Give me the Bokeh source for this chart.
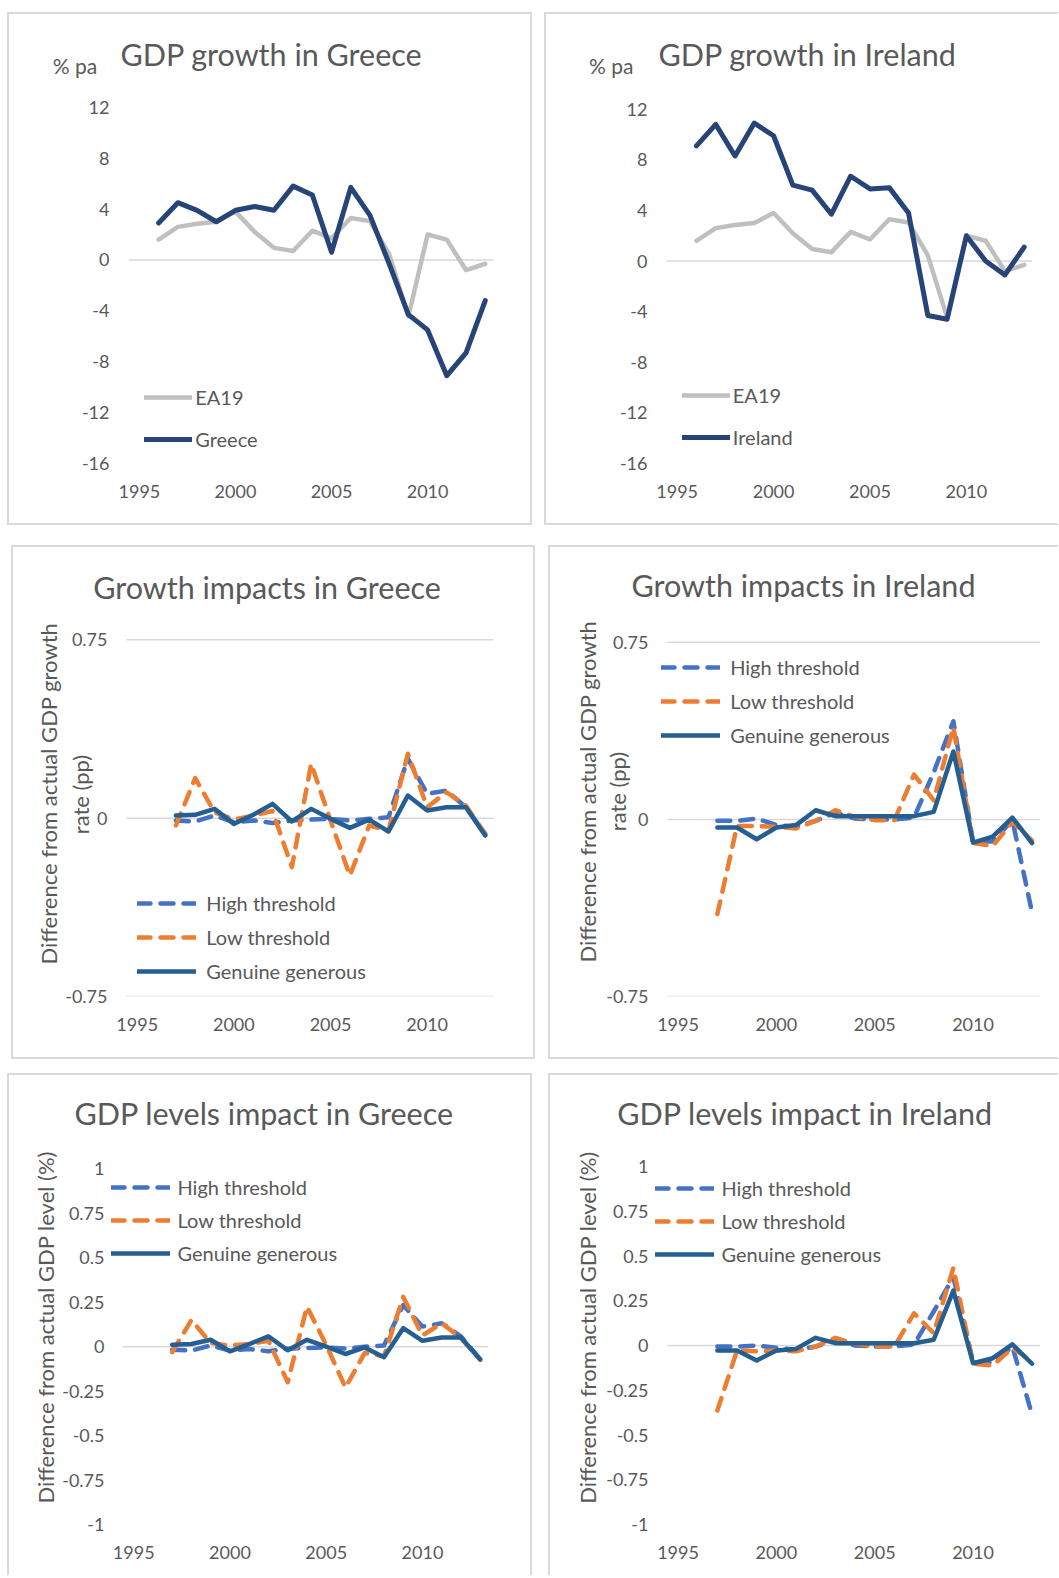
import math
from bokeh.plotting import figure
from bokeh.models import (Range1d, FixedTicker, Label, Legend, LegendItem,
                          Spacer, CustomJSTickFormatter)
from bokeh.layouts import row, column
from bokeh.embed import file_html
from bokeh.resources import INLINE

# ---------------- data ----------------
years = list(range(1996, 2014))
ea19 = [1.6, 2.6, 2.85, 3.0, 3.8, 2.2, 0.95, 0.7, 2.3, 1.7, 3.3, 3.05, 0.45, -4.45, 2.0, 1.6, -0.8, -0.3]
greece = [2.9, 4.5, 3.9, 3.0, 3.9, 4.2, 3.9, 5.8, 5.1, 0.6, 5.7, 3.5, -0.3, -4.3, -5.5, -9.1, -7.3, -3.2]
ireland = [9.1, 10.8, 8.3, 10.9, 9.9, 6.0, 5.6, 3.7, 6.7, 5.7, 5.8, 3.8, -4.3, -4.6, 2.0, 0.0, -1.1, 1.1]

impact_years = list(range(1997, 2014))
gr_growth_high = [-0.01, -0.014, 0.011, -0.017, -0.01, -0.02, -0.01, -0.006, -0.003, -0.01, -0.003, 0.004, 0.25, 0.102, 0.116, 0.046, -0.066]
gr_growth_low = [-0.031, 0.168, 0.025, -0.006, 0.011, 0.03, -0.206, 0.229, -0.01, -0.241, -0.031, -0.052, 0.271, 0.046, 0.109, 0.053, -0.066]
gr_growth_gen = [0.011, 0.014, 0.039, -0.024, 0.014, 0.06, -0.014, 0.039, -0.003, -0.041, -0.006, -0.056, 0.095, 0.032, 0.046, 0.046, -0.073]

ie_growth_high = [-0.006, -0.006, 0.004, -0.024, -0.031, -0.006, 0.028, 0.004, 0.0, 0.0, 0.008, 0.2, 0.416, -0.094, -0.094, -0.003, -0.394]
ie_growth_low = [-0.401, -0.028, -0.028, -0.031, -0.038, -0.006, 0.039, 0.011, -0.003, -0.003, 0.19, 0.081, 0.391, -0.1, -0.112, -0.01, -0.09]
ie_growth_gen = [-0.034, -0.034, -0.084, -0.034, -0.024, 0.039, 0.014, 0.014, 0.014, 0.014, 0.014, 0.032, 0.288, -0.098, -0.073, 0.008, -0.1]

gr_level_high = [-0.017, -0.022, 0.007, -0.022, -0.013, -0.026, -0.011, -0.007, -0.004, -0.011, 0.0, 0.007, 0.234, 0.113, 0.132, 0.058, -0.072]
gr_level_low = [-0.03, 0.15, 0.02, 0.007, 0.015, 0.033, -0.2, 0.225, 0.01, -0.23, -0.035, -0.054, 0.28, 0.063, 0.132, 0.048, -0.072]
gr_level_gen = [0.011, 0.015, 0.039, -0.026, 0.015, 0.058, -0.02, 0.039, 0.0, -0.041, -0.004, -0.059, 0.104, 0.033, 0.052, 0.052, -0.072]

ie_level_high = [-0.006, -0.006, 0.0, -0.013, -0.024, -0.006, 0.032, 0.0, -0.006, -0.006, 0.006, 0.19, 0.382, -0.093, -0.093, -0.006, -0.385]
ie_level_low = [-0.363, -0.028, -0.032, -0.028, -0.032, -0.006, 0.043, 0.009, -0.006, -0.006, 0.18, 0.069, 0.434, -0.102, -0.112, -0.013, -0.09]
ie_level_gen = [-0.028, -0.028, -0.084, -0.028, -0.019, 0.043, 0.013, 0.013, 0.013, 0.013, 0.013, 0.032, 0.307, -0.099, -0.071, 0.006, -0.102]

x_ticks = [1995, 2000, 2005, 2010]
growth_ticks = [12, 8, 4, 0, -4, -8, -12, -16]
impact_ticks = [0.75, 0, -0.75]
level_ticks = [1, 0.75, 0.5, 0.25, 0, -0.25, -0.5, -0.75, -1]
X_LO, X_HI = 1994.45, 2013.43          # horizontal axis limits (Excel plot area)

# ---------------- style ----------------
FONT = "Lato"
TEXT = "#595959"
GRID = "#D9D9D9"
NAVY = "#264478"
GREY = "#BFBFBF"
BLUE = "#4472C4"
ORANGE = "#ED7D31"
DKBLUE = "#255E91"
BW = 2  # CSS border width
TITLE_FS = "30.5px"
LEG_FS = "20px"
YLAB_FS = "22px"


class Panel:
    """Pixel geometry helper: page coords -> figure/frame coords."""

    def __init__(self, fx, fy, fw, fh, L, R, T, B, ylo, yhi, yticks,
                 open_right=False, open_bottom=False):
        cl, ct = fx + BW, fy + BW              # canvas origin (page)
        cr, cb = cl + fw, ct + fh              # canvas far edges (page)
        self.FL = cl + 1                       # extended frame left (page)
        self.FT = ct + 1                       # extended frame top (page)
        self.B = B
        sx = (R - L) / (X_HI - X_LO)
        sy = (B - T) / (yhi - ylo)
        x0 = X_LO - (L - self.FL) / sx
        y1 = yhi + (T - self.FT) / sy
        p = figure(width=fw, height=fh, x_range=Range1d(x0, X_HI),
                   y_range=Range1d(ylo, y1), output_backend="svg",
                   toolbar_location=None,
                   min_border_left=1, min_border_top=1,
                   min_border_right=int(round(cr - R)),
                   min_border_bottom=int(round(cb - B)))
        p.outline_line_color = None
        p.xgrid.visible = False
        p.ygrid.visible = False
        for ax in (p.xaxis[0], p.yaxis[0]):
            ax.axis_line_color = None
            ax.major_tick_line_color = None
            ax.minor_tick_line_color = None
            ax.major_tick_out = 0
            ax.major_tick_in = 0
            ax.minor_tick_out = 0
            ax.major_label_text_font = FONT
            ax.major_label_text_font_size = "18px"
            ax.major_label_text_color = TEXT
        p.xaxis.ticker = FixedTicker(ticks=x_ticks)
        p.xaxis.major_label_standoff = 21
        p.yaxis.ticker = FixedTicker(ticks=yticks)
        p.yaxis.formatter = CustomJSTickFormatter(code="return String(tick);")
        # tick labels sit 19px left of the data area, i.e. inside the extended frame
        p.yaxis.major_label_standoff = int(round(self.FL - (L - 19)))
        styles = {"border": f"{BW}px solid {GRID}", "box-sizing": "border-box"}
        if open_right:
            styles["border-right-color"] = "transparent"
        if open_bottom:
            styles["border-bottom-color"] = "transparent"
        p.styles = styles
        self.p = p

    def sx(self, page_x):
        return page_x - self.FL

    def sy(self, page_y):
        return self.B - page_y

    def hline(self, v):
        self.p.segment(x0=[X_LO], x1=[X_HI], y0=[v], y1=[v], line_color=GRID,
                       line_width=1.5, level="underlay")

    def text(self, px, py, t, size, align="left", angle=0.0):
        self.p.add_layout(Label(x=self.sx(px), y=self.sy(py), x_units="screen",
                                y_units="screen", text=t, text_font=FONT,
                                text_font_size=size, text_color=TEXT,
                                text_align=align, text_baseline="middle",
                                angle=angle))

    def legend(self, items, px0, pbottom, gw, standoff, spacing):
        leg = Legend(items=items, location=(self.sx(px0), self.sy(pbottom)),
                     orientation="vertical", padding=0, margin=0,
                     spacing=spacing, glyph_width=gw, glyph_height=26,
                     label_height=26, label_standoff=standoff,
                     label_text_font=FONT, label_text_font_size=LEG_FS,
                     label_text_color=TEXT, background_fill_alpha=0,
                     border_line_color=None)
        self.p.add_layout(leg)


def growth_panel(geom, title, country, cvals, title_pos, pa_pos, leg, **kw):
    g = Panel(*geom, -16, 12, growth_ticks, **kw)
    p = g.p
    g.hline(0)
    r1 = p.line(years, ea19, line_color=GREY, line_width=4.5,
                line_cap="round", line_join="round")
    r2 = p.line(years, cvals, line_color=NAVY, line_width=5,
                line_cap="round", line_join="round")
    g.legend([LegendItem(label="EA19", renderers=[r1]),
              LegendItem(label=country, renderers=[r2])],
             leg[0], leg[1], 48, 3, 16)
    g.text(title_pos[0], title_pos[1], title, TITLE_FS)
    g.text(pa_pos[0], pa_pos[1], "% pa", "21px", align="right")
    return p


def impact_panel(geom, yr, yticks, lines, title, ylabels, title_pos, leg,
                 grid_vals, **kw):
    g = Panel(*geom, yr[0], yr[1], yticks, **kw)
    p = g.p
    for v in grid_vals:
        g.hline(v)
    hi, lo, gen = lines
    r1 = p.line(impact_years, hi, line_color=BLUE, line_width=4.5,
                line_dash="13 10", line_cap="round", line_join="round")
    r2 = p.line(impact_years, lo, line_color=ORANGE, line_width=4.5,
                line_dash="13 10", line_cap="round", line_join="round")
    r3 = p.line(impact_years, gen, line_color=DKBLUE, line_width=4.5,
                line_cap="round", line_join="round")
    g.legend([LegendItem(label="High threshold", renderers=[r1]),
              LegendItem(label="Low threshold", renderers=[r2]),
              LegendItem(label="Genuine generous", renderers=[r3])],
             leg[0], leg[1], 59, leg[2], leg[3])
    g.text(title_pos[0], title_pos[1], title, TITLE_FS)
    for (lx, ly, lt) in ylabels:
        g.text(lx, ly, lt, YLAB_FS, align="center", angle=math.pi / 2)
    return p


# geometry: figure box (x, y, w, h) and data area (L, R, T, B), page pixels;
# text positions are (left or right edge, vertical centre) in page pixels
p1 = growth_panel((7, 12, 525, 513, 128.3, 492.7, 106.7, 462.7),
                  "GDP growth in Greece", "Greece", greece,
                  (120, 53.3), (96.7, 64.2), (144.2, 452))
p2 = growth_panel((544, 12, 515, 513, 666, 1031.7, 109.3, 466),
                  "GDP growth in Ireland", "Ireland", ireland,
                  (658, 56.7), (633, 68), (681.8, 453), open_right=True)

p3 = impact_panel((11, 545, 524, 514, 126, 492.7, 639.3, 996), (-0.75, 0.75),
                  impact_ticks, (gr_growth_high, gr_growth_low, gr_growth_gen),
                  "Growth impacts in Greece",
                  [(48, 793, "Difference from actual GDP growth"), (80, 794, "rate (pp)")],
                  (92.7, 586.7), (137.3, 984, 10, 8), [0.75, 0, -0.75])
p4 = impact_panel((548, 545, 511, 514, 666.7, 1040, 642.7, 1000), (-0.75, 0.75),
                  impact_ticks, (ie_growth_high, ie_growth_low, ie_growth_gen),
                  "Growth impacts in Ireland",
                  [(586.7, 795, "Difference from actual GDP growth"), (616.7, 795, "rate (pp)")],
                  (631, 588.7), (661.2, 752, 10, 8), [0.75, 0, -0.75],
                  open_right=True)
p5 = impact_panel((7, 1073, 525, 503, 122.7, 488.3, 1169.3, 1528.3), (-1, 1),
                  level_ticks, (gr_level_high, gr_level_low, gr_level_gen),
                  "GDP levels impact in Greece",
                  [(45, 1331, "Difference from actual GDP level (%)")],
                  (74, 1116.7), (110.5, 1270.7, 8, 7), [0], open_bottom=True)
p6 = impact_panel((548, 1073, 511, 503, 666.7, 1040, 1166, 1524), (-1, 1),
                  level_ticks, (ie_level_high, ie_level_low, ie_level_gen),
                  "GDP levels impact in Ireland",
                  [(586.7, 1327, "Difference from actual GDP level (%)")],
                  (616.7, 1112.5), (654.5, 1267.3, 8, 7), [0],
                  open_right=True, open_bottom=True)

layout = column(
    Spacer(height=12),
    row(Spacer(width=7), p1, Spacer(width=12), p2),
    Spacer(height=20),
    row(Spacer(width=11), p3, Spacer(width=13), p4),
    Spacer(height=14),
    row(Spacer(width=7), p5, Spacer(width=16), p6),
)

with open("out.html", "w") as f:
    f.write(file_html(layout, INLINE))
